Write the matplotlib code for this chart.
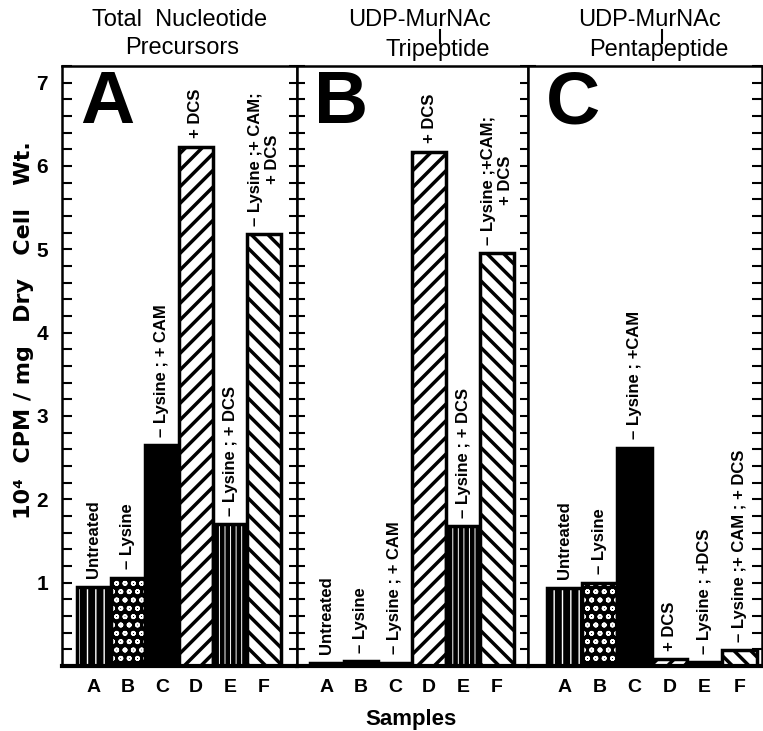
import matplotlib
matplotlib.use("Agg")
import matplotlib.pyplot as plt
from matplotlib.lines import Line2D
from matplotlib.ticker import MultipleLocator

plt.rcParams["font.family"] = ["Liberation Sans", "DejaVu Sans"]
narrow = ["DejaVu Sans Condensed", "Liberation Sans", "DejaVu Sans"]

samples = ["A", "B", "C", "D", "E", "F"]

# 10^4 CPM / mg dry cell wt.
total_vals = [0.95, 1.06, 2.65, 6.23, 1.70, 5.18]
tri_vals = [0.04, 0.06, 0.04, 6.17, 1.68, 4.95]
penta_vals = [0.94, 1.00, 2.62, 0.08, 0.05, 0.19]

total_notes = ["Untreated", "– Lysine", "– Lysine ; + CAM", "+ DCS",
               "– Lysine ; + DCS", "– Lysine ;+ CAM;\n+ DCS"]
tri_notes = ["Untreated", "– Lysine", "– Lysine ; + CAM", "+ DCS",
             "– Lysine ; + DCS", "– Lysine ;+CAM;\n+ DCS"]
penta_notes = ["Untreated", "– Lysine", "– Lysine ; +CAM", "+ DCS",
               "– Lysine ; +DCS", "– Lysine ;+ CAM ; + DCS"]

panel_letters = ["A", "B", "C"]

# fill, hatch, hatch colour, hatch line width for each sample
bar_styles = [
    ("black", "||", "white", 1.0),
    ("black", "oo", "white", 1.2),
    ("black", "", "black", 1.0),
    ("white", "//", "black", 2.5),
    ("black", "|||", "white", 0.7),
    ("white", "\\\\", "black", 2.5),
]

W, H = 763, 731
fig = plt.figure(figsize=(W / 100, H / 100), dpi=100)


def px_box(x0, x1, y_top=66, y_bot=666):
    return [x0 / W, 1 - y_bot / H, (x1 - x0) / W, (y_bot - y_top) / H]


axes = [fig.add_axes(px_box(62, 297)),
        fig.add_axes(px_box(297, 528)),
        fig.add_axes(px_box(528, 762))]
xlims = [(-0.94, 5.97), (-0.88, 5.91), (-1.05, 5.65)]

for k, (ax, vals, notes) in enumerate(zip(axes, [total_vals, tri_vals, penta_vals],
                                          [total_notes, tri_notes, penta_notes])):
    for i, v in enumerate(vals):
        face, hatch, hcol, hlw = bar_styles[i]
        with plt.rc_context({"hatch.linewidth": hlw}):
            ax.bar(i, v, width=1.0, color=face, edgecolor=hcol, hatch=hatch, linewidth=0)
        ax.bar(i, v, width=1.0, fill=False, edgecolor="black", linewidth=2.5)
        ax.annotate(notes[i], (i, v), xytext=(0, 6), textcoords="offset points",
                    rotation=90, ha="center", va="bottom", multialignment="center",
                    fontsize=12, fontweight="bold", family=narrow)

    ax.set_xlim(*xlims[k])
    ax.set_ylim(0, 7.2)
    ax.set_yticks(range(1, 8))
    ax.yaxis.set_minor_locator(MultipleLocator(0.2))
    ax.set_xticks(range(len(samples)), samples)
    ax.tick_params(axis="x", length=0, pad=9, labelsize=14)
    for lab in ax.get_xticklabels():
        lab.set_fontweight("bold")

    for side in ["left", "right", "top"]:
        ax.spines[side].set_linewidth(1.8)
    ax.spines["bottom"].set_linewidth(3)

    if k == 0:
        ax.tick_params(axis="y", which="both", direction="in", left=True, right=False,
                       length=7, width=1.5, labelsize=15, pad=10)
        for lab in ax.get_yticklabels():
            lab.set_fontweight("bold")
    elif k == 1:
        ax.tick_params(axis="y", which="both", direction="inout", left=True, right=True,
                       length=12, width=1.5, labelleft=False)
    else:
        ax.tick_params(axis="y", which="both", direction="in", left=False, right=True,
                       length=7, width=1.5, labelleft=False)

    ax.text(0.075, 0.995, panel_letters[k], transform=ax.transAxes, ha="left", va="top",
            fontsize=54, fontweight="bold", family=narrow)

# panel headings
title_font = dict(ha="center", va="center", fontsize=17, family=narrow)
fig.text(180 / W, 1 - 20 / H, "Total  Nucleotide", **title_font)
fig.text(182 / W, 1 - 48 / H, "Precursors", **title_font)
fig.text(420 / W, 1 - 20 / H, "UDP-MurNAc", **title_font)
fig.text(438 / W, 1 - 50 / H, "Tripeptide", **title_font)
fig.text(650 / W, 1 - 20 / H, "UDP-MurNAc", **title_font)
fig.text(659 / W, 1 - 50 / H, "Pentapeptide", **title_font)
for xc in [440, 662]:
    fig.add_artist(Line2D([xc / W, xc / W], [1 - 30 / H, 1 - 43 / H], color="black", lw=1.5))

fig.text(24 / W, 1 - 330 / H, "10⁴  CPM / mg   Dry   Cell   Wt.", rotation=90,
         ha="center", va="center", fontsize=16, fontweight="bold",
         family=["DejaVu Sans"])
fig.text(411 / W, 1 - 720 / H, "Samples", ha="center", va="center",
         fontsize=16, fontweight="bold")

fig.savefig("out.png", dpi=100)
